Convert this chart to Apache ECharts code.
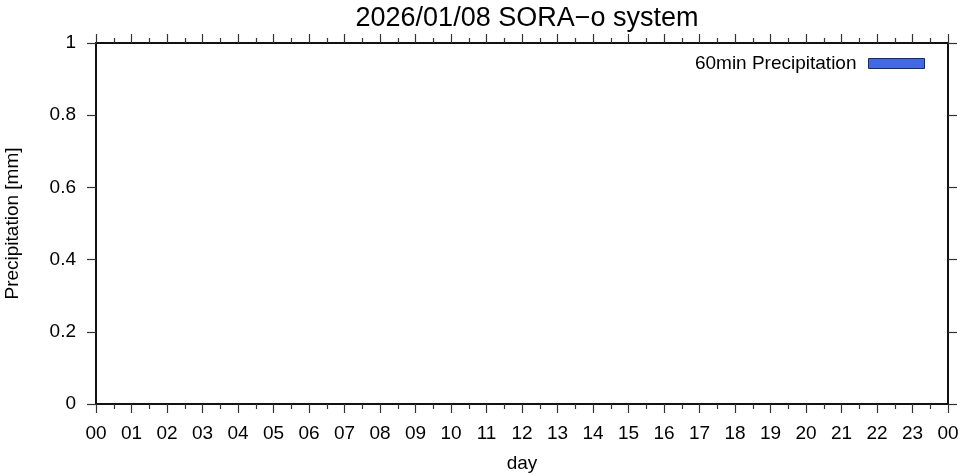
<!DOCTYPE html>
<html><head><meta charset="utf-8">
<script src="https://cdn.jsdelivr.net/npm/echarts@6/dist/echarts.min.js"></script>
<style>html,body{margin:0;padding:0;background:#fff}#c{width:961px;height:475px}</style>
</head><body><div id="c"></div>
<script>
const titleText = "2026/01/08 SORA\u2212o system";
const seriesName = "60min Precipitation";
const hours = [0.5,1.5,2.5,3.5,4.5,5.5,6.5,7.5,8.5,9.5,10.5,11.5,12.5,13.5,14.5,15.5,16.5,17.5,18.5,19.5,20.5,21.5,22.5,23.5];
const precip = [0,0,0,0,0,0,0,0,0,0,0,0,0,0,0,0,0,0,0,0,0,0,0,0];
const xTickLabels = ["00","01","02","03","04","05","06","07","08","09","10","11","12","13","14","15","16","17","18","19","20","21","22","23","00"];
const yMin = 0, yMax = 1, yStep = 0.2;

const font = "'Liberation Sans', Arial, sans-serif";
const chart = echarts.init(document.getElementById('c'), null, {renderer:'canvas'});
const axisLine = {show:true, onZero:false, lineStyle:{color:'#111', width:2}};
const tickStyle = {color:'#333', width:1.2};
chart.setOption({
  animation:false,
  backgroundColor:'#fff',
  title:{text:titleText, left:522, textAlign:'center', top:0, textStyle:{fontFamily:font, fontSize:27, fontWeight:'normal', color:'#000'}},
  legend:{data:[{name:seriesName, itemStyle:{color:'#4169e1', borderColor:'#1a2a60', borderWidth:1}}], right:31, top:49, align:'right', icon:'rect', itemWidth:56, itemHeight:10,
    textStyle:{fontFamily:font, fontSize:19, color:'#000', padding:[0,7,0,0]}},
  grid:{left:96, right:13, top:43, bottom:71, containLabel:false, outerBoundsMode:'none'},
  xAxis:[
    {type:'value', min:0, max:24, interval:1, position:'bottom',
     name:'day', nameLocation:'middle', nameGap:50, nameTextStyle:{fontFamily:font, fontSize:19, color:'#000'},
     axisLine:axisLine, axisTick:{show:true, length:9, lineStyle:tickStyle},
     minorTick:{show:true, splitNumber:2, length:5, lineStyle:tickStyle},
     splitLine:{show:false},
     axisLabel:{margin:20, fontFamily:font, fontSize:19, color:'#000', formatter:v=>xTickLabels[Math.round(v)]}},
    {type:'value', min:0, max:24, interval:1, position:'top',
     axisLine:axisLine, axisTick:{show:true, length:9, lineStyle:tickStyle},
     minorTick:{show:true, splitNumber:2, length:5, lineStyle:tickStyle},
     splitLine:{show:false}, axisLabel:{show:false}}
  ],
  yAxis:[
    {type:'value', min:yMin, max:yMax, interval:yStep, position:'left',
     name:'Precipitation [mm]', nameLocation:'middle', nameGap:74, nameRotate:90,
     nameTextStyle:{fontFamily:font, fontSize:19, color:'#000'},
     axisLine:axisLine, axisTick:{show:true, length:9, lineStyle:tickStyle},
     splitLine:{show:false},
     axisLabel:{margin:20, fontFamily:font, fontSize:19, color:'#000', formatter:v=>String(+v.toFixed(1))}},
    {type:'value', min:yMin, max:yMax, interval:yStep, position:'right',
     axisLine:axisLine, axisTick:{show:true, length:9, lineStyle:tickStyle},
     splitLine:{show:false}, axisLabel:{show:false}}
  ],
  series:[{name:seriesName, type:'bar', xAxisIndex:0, yAxisIndex:0, barWidth:'90%',
    itemStyle:{color:'#4169e1', borderWidth:0},
    data:hours.map((h,i)=>[h, precip[i]])}]
});
</script></body></html>
